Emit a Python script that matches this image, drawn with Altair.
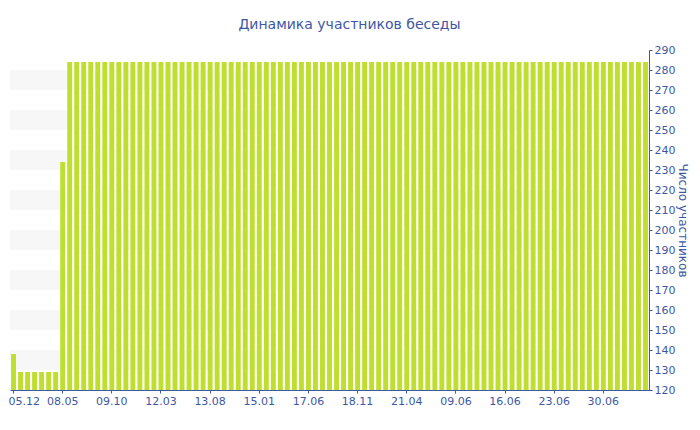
import altair as alt
import pandas as pd

# ---- data ----
tick_labels = ["05.12", "08.05", "09.10", "12.03", "13.08", "15.01", "17.06",
               "18.11", "21.04", "09.06", "16.06", "23.06", "30.06"]
members = [138] + [129] * 6 + [234] + [284] * 83
band_lo = [130, 150, 170, 190, 210, 230, 250, 270]
band_hi = [140, 160, 180, 200, 220, 240, 260, 280]
y_ticks = list(range(120, 291, 10))

BLUE = "#3E57A5"
GREEN = "#BEDF2E"
FONT = "DejaVu Sans"

bars_df = pd.DataFrame({"i": list(range(len(members))), "n": members})
bands_df = pd.DataFrame({"lo": band_lo, "hi": band_hi})

label_arr = "[" + ",".join("'" + t + "'" for t in tick_labels) + "]"
x_tick_vals = [k * 7 for k in range(len(tick_labels))]

y_scale = alt.Scale(domain=[120, 290], nice=False, zero=False)
y_axis = alt.Axis(orient="right", values=y_ticks, title="Число участников",
                  grid=False, tickSize=3, labelPadding=2,
                  titleAngle=90, titlePadding=1, titleFontSize=12,
                  titleFontWeight="normal", titleFont=FONT, titleColor=BLUE)

bands = alt.Chart(bands_df).mark_rect(color="#F7F7F7").encode(
    y=alt.Y("lo:Q", scale=y_scale, axis=y_axis),
    y2="hi:Q",
)

bars = alt.Chart(bars_df).mark_bar(color=GREEN).encode(
    x=alt.X("i:O",
            scale=alt.Scale(paddingInner=0.3, paddingOuter=0.15),
            axis=alt.Axis(values=x_tick_vals, title=None, labelAngle=0,
                          labelExpr=label_arr + "[datum.value / 7]",
                          labelFlush=5, labelFlushOffset=5,
                          tickSize=3, labelPadding=2)),
    y=alt.Y("n:Q", scale=y_scale, axis=y_axis),
    y2=alt.datum(120),
)

chart = alt.layer(bands, bars).properties(
    width=639,
    height=340,
    background="white",
    autosize=alt.AutoSizeParams(type="none"),
    padding={"left": 2, "top": 42, "right": 43, "bottom": 24},
    title=alt.Title("Динамика участников беседы", font=FONT, fontSize=14,
                    fontWeight="normal", color=BLUE, anchor="middle",
                    dx=20, offset=1, baseline="alphabetic"),
).configure_view(stroke=None).configure_axis(
    domainColor=BLUE, tickColor=BLUE, labelColor=BLUE,
    labelFont=FONT, labelFontSize=11,
)

chart.save("out.html", embed_options={"renderer": "svg", "actions": False})
